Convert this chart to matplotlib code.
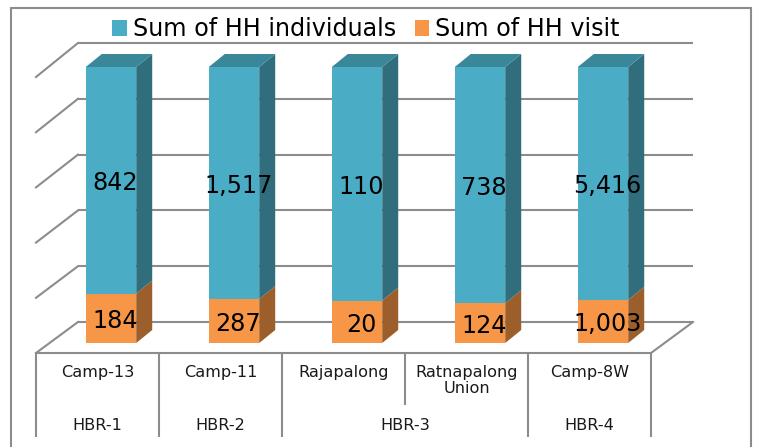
import matplotlib
matplotlib.use('Agg')
import matplotlib.pyplot as plt
from matplotlib.patches import Polygon, Rectangle
import numpy as np

# ------------------------------
# Data
# ------------------------------
categories = ['Camp-13', 'Camp-11', 'Rajapalong', 'Ratnapalong\nUnion', 'Camp-8W']
groups = ['HBR-1', 'HBR-2', 'HBR-3', 'HBR-4']
group_spans = [(0, 0), (1, 1), (2, 3), (4, 4)]
hh_individuals = [842, 1517, 110, 738, 5416]
hh_visit = [184, 287, 20, 124, 1003]
series_names = ['Sum of HH individuals', 'Sum of HH visit']
pct_grid = [0, 20, 40, 60, 80, 100]

# ------------------------------
# Style
# ------------------------------
teal, teal_side, teal_top = '#4BACC6', '#316E7D', '#3A8799'
orange, orange_side = '#F79646', '#9C5F2C'
grid_col = '#8C8C8C'
label_fs = 17.2
axis_fs = 11.6

W, H = 757, 447
fig = plt.figure(figsize=(W / 100, H / 100), dpi=100)
ax = fig.add_axes([0, 0, 1, 1])

# bar front plane anchored in pixels: category 0 centre, 0% and 100% levels
px_per_cat, px_per_pct = 123, 2.76
x0_px, y0_px = 111, 343
ax.set_xlim(-x0_px / px_per_cat, (W - x0_px) / px_per_cat)
ax.set_ylim(-(H - y0_px) / px_per_pct, y0_px / px_per_pct)
ax.axis('off')


def off(dx_px, dy_px):
    # pixel offset (screen y down) -> data offset
    return dx_px / px_per_cat, -dy_px / px_per_pct


def py(y_px):
    return (y0_px - y_px) / px_per_pct


bx, by = off(28.5, -21)    # back wall
fx, fy = off(-13.5, 10)    # front edge of floor
ddx, ddy = off(16, -13)    # bar depth
back_scale = 279 / 276     # slight perspective on the back wall

n = len(categories)
x = np.arange(n)
ind = np.array(hh_individuals, dtype=float)
vis = np.array(hh_visit, dtype=float)
tot = ind + vis
p_vis = vis / tot * 100
p_ind = ind / tot * 100

left, right = -0.5, n - 0.5

# back wall gridlines + side wall lines
for p in pct_grid:
    yb = p * back_scale + by
    ax.plot([left + bx, right + bx], [yb, yb], color=grid_col, lw=1.5, zorder=1,
            solid_capstyle='butt')
    ax.plot([left + bx, left + fx], [yb, p + fy], color=grid_col, lw=1.5, zorder=1)

# floor
ax.plot([left + fx, right + fx], [fy, fy], color=grid_col, lw=1.5, zorder=1)
ax.plot([right + bx, right + fx], [by, fy], color=grid_col, lw=1.5, zorder=1)

# bars (100% stacked)
w = 0.41
ax.bar(x, p_vis, width=w, color=orange, zorder=3, linewidth=0)
ax.bar(x, p_ind, bottom=p_vis, width=w, color=teal, zorder=3, linewidth=0)

for i in range(n):
    xr = x[i] + w / 2
    xl = x[i] - w / 2
    for b, t, c in [(0, p_vis[i], orange_side), (p_vis[i], 100, teal_side)]:
        ax.add_patch(Polygon([(xr, b), (xr + ddx, b + ddy), (xr + ddx, t + ddy), (xr, t)],
                             closed=True, fc=c, ec='none', zorder=3))
    ax.add_patch(Polygon([(xl, 100), (xr, 100), (xr + ddx, 100 + ddy), (xl + ddx, 100 + ddy)],
                         closed=True, fc=teal_top, ec='none', zorder=3))
    ax.text(x[i] + 0.035, p_vis[i] / 2 - 1, f'{int(vis[i]):,}', ha='center', va='center',
            fontsize=label_fs, color='black', zorder=5)
    ax.text(x[i] + 0.035, p_vis[i] + p_ind[i] / 2 - 1, f'{int(ind[i]):,}', ha='center',
            va='center', fontsize=label_fs, color='black', zorder=5)

# category table below the floor
y_top = fy
y_bot = py(437)
y_mid = py(405)
for k in range(n + 1):
    inner = any(a < k <= b for a, b in group_spans)
    ax.plot([k - 0.5 + fx] * 2, [y_top, y_mid if inner else y_bot], color=grid_col, lw=1.5,
            zorder=1, solid_capstyle='butt')

for i, cat in enumerate(categories):
    ax.text(i + fx, py(365), cat, ha='center', va='top', fontsize=axis_fs, color='#1a1a1a',
            linespacing=1.05)

for g, (a, b) in zip(groups, group_spans):
    ax.text((a + b) / 2 + fx, py(426), g, ha='center', va='center', fontsize=axis_fs,
            color='#1a1a1a')

# legend
handles = [Rectangle((0, 0), 1, 1, fc=teal, ec='none'), Rectangle((0, 0), 1, 1, fc=orange, ec='none')]
fig.legend(handles, series_names, loc='center', bbox_to_anchor=(366 / W, 1 - 29.5 / H), ncol=2,
           frameon=False, fontsize=label_fs, handlelength=0.6, handleheight=0.6,
           handletextpad=0.25, columnspacing=0.8, borderpad=0, borderaxespad=0)

# chart border
fig.add_artist(Rectangle((11 / W, -0.1), 740 / W, 1.1 - 8 / H, transform=fig.transFigure,
                         fill=False, ec=grid_col, lw=1.5))

fig.savefig('out.png', dpi=100)
